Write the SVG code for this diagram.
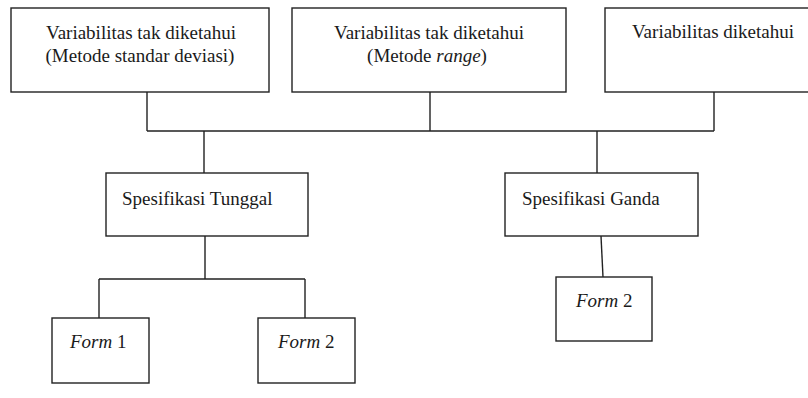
<svg xmlns="http://www.w3.org/2000/svg" width="808" height="398" viewBox="0 0 808 398">
<style>
.box{fill:none;stroke:#222;stroke-width:1.4}
.ln{fill:none;stroke:#222;stroke-width:1.4}
text{font-size:19px;fill:#1a1a1a}
.c{text-anchor:middle}
.i{font-style:italic}
</style>
<rect width="808" height="398" fill="#ffffff"/>
<g id="connectors">
<path class="ln" d="M147,92V131M430,92V131M714,92V131M147,131H714"/>
<path class="ln" d="M204,131V173M597,131V173"/>
<path class="ln" d="M205,236V279M99,279H305M99,279V318M305,279V318"/>
<path class="ln" d="M601,236L603,277"/>
</g>
<g font-family="'Liberation Serif', 'Times New Roman', Times, 'DejaVu Serif', serif">
<g id="n1">
<rect class="box" x="11" y="8" width="258" height="84"/>
<text class="c" x="141" y="39">Variabilitas tak diketahui</text>
<text class="c" x="140" y="62">(Metode standar deviasi)</text>
</g>
<g id="n2">
<rect class="box" x="292" y="8" width="274" height="84"/>
<text class="c" x="429" y="39">Variabilitas tak diketahui</text>
<text class="c" x="427" y="62">(Metode <tspan class="i">range</tspan>)</text>
</g>
<g id="n3">
<rect class="box" x="605" y="8" width="215" height="84"/>
<text x="632" y="38">Variabilitas diketahui</text>
</g>
<g id="n4">
<rect class="box" x="106" y="173" width="202" height="63"/>
<text x="122" y="205">Spesifikasi Tunggal</text>
</g>
<g id="n5">
<rect class="box" x="505" y="173" width="193" height="63"/>
<text x="522" y="205">Spesifikasi Ganda</text>
</g>
<g id="n6">
<rect class="box" x="52" y="318" width="97" height="65"/>
<text x="70" y="348"><tspan class="i">Form</tspan> 1</text>
</g>
<g id="n7">
<rect class="box" x="258" y="318" width="97" height="65"/>
<text x="278" y="348"><tspan class="i">Form</tspan> 2</text>
</g>
<g id="n8">
<rect class="box" x="556" y="277" width="96" height="64"/>
<text x="576" y="307"><tspan class="i">Form</tspan> 2</text>
</g>
</g>
</svg>
